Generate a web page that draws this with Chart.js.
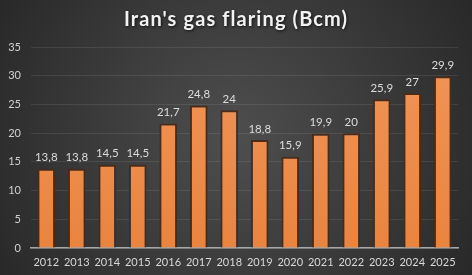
<!DOCTYPE html>
<html><head><meta charset="utf-8">
<script src="https://cdn.jsdelivr.net/npm/chart.js@4"></script>
<style>html,body{margin:0;padding:0;background:#333;}#wrap{width:472px;height:275px;}</style>
</head><body><div id="wrap"><canvas id="c" width="472" height="275"></canvas></div>
<script>
const years = ['2012','2013','2014','2015','2016','2017','2018','2019','2020','2021','2022','2023','2024','2025'];
const flaring = [13.8,13.8,14.5,14.5,21.7,24.8,24,18.8,15.9,19.9,20,25.9,27,29.9];
const yTicks = [0,5,10,15,20,25,30,35];
const titleText = "Iran's gas flaring (Bcm)";

const bgPlugin = {
  id:'bg',
  beforeDraw(chart){
    const ctx = chart.ctx, w = chart.width, h = chart.height;
    const g = ctx.createRadialGradient(w/2, h*0.5, 0, w/2, h*0.5, w*0.62);
    g.addColorStop(0,'#4e4e4e');
    g.addColorStop(1,'#262626');
    ctx.save(); ctx.fillStyle = g; ctx.fillRect(0,0,w,h); ctx.restore();
  }
};
const labelPlugin = {
  id:'vals',
  afterDatasetsDraw(chart){
    const ctx = chart.ctx;
    const meta = chart.getDatasetMeta(0);
    ctx.save();
    ctx.font = '11.5px Lato';
    ctx.fillStyle = '#dcdcdc';
    ctx.textAlign = 'center';
    ctx.textBaseline = 'middle';
    meta.data.forEach((bar,i)=>{
      ctx.fillText(String(flaring[i]).replace('.',','), bar.x, bar.y - 11);
    });
    ctx.restore();
  }
};
const titlePlugin = {
  id:'ttl',
  afterDraw(chart){
    const ctx = chart.ctx;
    ctx.save();
    ctx.font = 'bold 20px Lato';
    ctx.fillStyle = '#f2f2f2';
    ctx.textAlign = 'center';
    ctx.textBaseline = 'middle';
    ctx.shadowColor = 'rgba(0,0,0,0.7)';
    ctx.shadowBlur = 3; ctx.shadowOffsetX = 1; ctx.shadowOffsetY = 1;
    if (ctx.letterSpacing !== undefined) ctx.letterSpacing = '1.1px';
    ctx.fillText(titleText, 236, 20);
    ctx.restore();
  }
};

new Chart(document.getElementById('c'), {
  type:'bar',
  data:{ labels: years, datasets:[{ data: flaring,
    backgroundColor: (c)=>{
      const ch = c.chart; const a = ch.chartArea; if(!a) return '#ec8a48';
      const g = ch.ctx.createLinearGradient(0,a.top,0,a.bottom);
      g.addColorStop(0,'#f0955a'); g.addColorStop(1,'#e98440'); return g;
    },
    borderColor:'#4a2a18', borderWidth:2, borderSkipped:'bottom',
    barPercentage:0.58, categoryPercentage:1 }]},
  options:{
    responsive:false, animation:false, devicePixelRatio:1,
    layout:{ padding:{ top:47, right:14, bottom:6, left:0 } },
    plugins:{ legend:{display:false}, tooltip:{enabled:false}, title:{display:false} },
    scales:{
      x:{ grid:{ display:false, drawTicks:false },
          afterFit:(s)=>{ s.height = 21; },
          border:{ display:true, color:'#a8a8a8', width:1.5 },
          ticks:{ color:'#d8d8d8', font:{ family:'Lato', size:11 }, padding:8, maxRotation:0 } },
      y:{ min:0, max:35, afterFit:(s)=>{ s.width = 31; },
          afterBuildTicks:(s)=>{ s.ticks = yTicks.map(v=>({value:v})); },
          grid:{ color:'rgba(255,255,255,0.09)', drawTicks:false },
          border:{ display:false },
          ticks:{ color:'#d0d0d0', font:{ family:'Lato', size:11 }, padding:10 } }
    }
  },
  plugins:[bgPlugin, labelPlugin, titlePlugin]
});
</script></body></html>
